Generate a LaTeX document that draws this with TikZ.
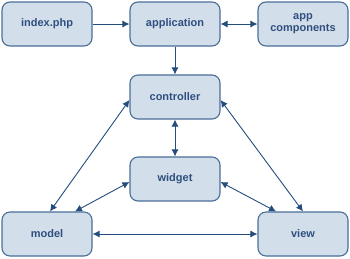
\documentclass[tikz,border=0pt]{standalone}
\usepackage{fontspec}
\setmainfont{Liberation Sans}
\usetikzlibrary{arrows.meta}
\definecolor{boxfill}{HTML}{D3DEEB}
\definecolor{boxline}{HTML}{4A6E9A}
\definecolor{boxtext}{HTML}{2F4F7F}
\definecolor{arrowc}{HTML}{244C7C}
\tikzset{
  box/.style={draw=boxline, fill=boxfill, line width=1.1pt, rounded corners=8pt,
    minimum width=90pt, minimum height=44pt, inner sep=0pt, align=center,
    font=\fontsize{11}{12}\selectfont\bfseries, text=boxtext},
  conn/.style={draw=arrowc, line width=0.9pt, -{Latex[length=7pt,width=7pt]}},
  conn2/.style={draw=arrowc, line width=0.9pt, {Latex[length=7pt,width=7pt]}-{Latex[length=7pt,width=7pt]}}
}
\begin{document}
\begin{tikzpicture}[x=1pt,y=-1pt]
\useasboundingbox (0,0) rectangle (350,258);
\node[box] (idx) at (47,24) {index.php};
\node[box] (app) at (175,24) {application};
\node[box] (comp) at (303,24) {app\\components};
\node[box] (ctrl) at (175,97) {controller};
\node[box] (wid) at (175,179) {widget};
\node[box] (model) at (47,234) {model};
\node[box] (view) at (303,234) {view};
\draw[conn] (idx) -- (app);
\draw[conn2] (app) -- (comp);
\draw[conn] (app) -- (ctrl);
\draw[conn2] (ctrl) -- (wid);
\draw[conn2] ([yshift=-3pt]ctrl.west) -- ([xshift=3pt]model.north);
\draw[conn2] ([yshift=-3pt]ctrl.east) -- ([xshift=0pt]view.north);
\draw[conn2] ([yshift=-3pt]wid.west) -- ([xshift=28pt]model.north);
\draw[conn2] ([yshift=-3pt]wid.east) -- ([xshift=-27pt]view.north);
\draw[conn2] (model) -- (view);
\end{tikzpicture}
\end{document}
